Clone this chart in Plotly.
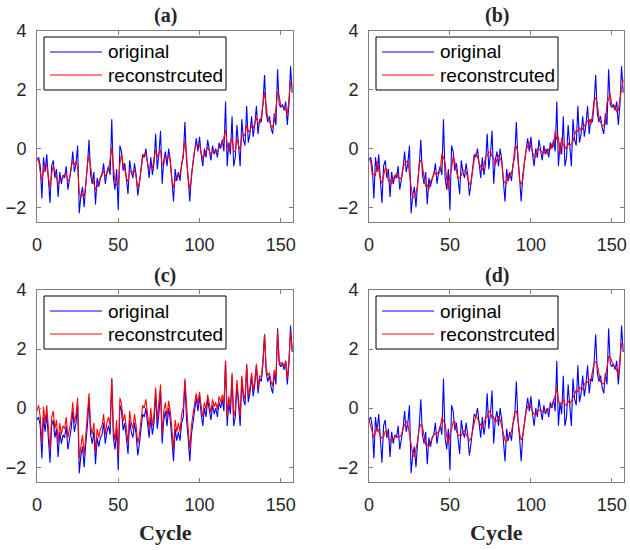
import plotly.graph_objects as go

COLOR_BLUE = "#0000FF"
COLOR_RED = "#FF0000"
AXIS_GRAY = "#7F7F7F"

cycle = list(range(158))

original = [
    -0.4, -0.3, -0.6, -1.7, -0.3, -0.8, -0.2, -1.1, -1.85, -0.6,
    -0.4, -1.0, -0.7, -1.65, -0.8, -1.2, -0.9, -1.0, -0.6, -1.4,
    -1.0, -0.7, -0.1, -0.8, -0.5, 0.1, -2.2, -1.6, -1.3, -2.0,
    -1.2, -0.6, 0.3, -0.9, -1.2, -0.8, -1.9, -1.0, -1.3, -1.0,
    -0.9, -0.5, -1.2, -0.8, -0.6, -0.9, 1.0, -1.0, -1.4, -0.7,
    -2.1, 0.1, -0.1, -0.75, -0.5, -1.0, -1.55, -0.4, -0.8, -1.0,
    -0.5, -0.9, -1.6, -1.2, -0.6, -0.2, -0.3, 0.0, -0.5, -1.0,
    -0.3, -0.9, -0.5, 0.5, -0.7, -0.2, 0.6, -1.2, -0.4, -0.1,
    -0.6, 0.0, -0.4, -1.0, -1.8, -0.7, -1.1, -0.8, -1.1, -0.5,
    -0.3, 0.9, -0.4, -1.0, -1.8, -0.9, -0.5, 0.0, 0.35, -0.1,
    0.4, -0.2, -0.6, 0.0, -0.3, 0.3, -0.1, -0.4, 0.1, -0.2,
    0.0, -0.3, 0.2, 0.0, 0.3, -0.1, 1.6, -0.6, 0.2, -0.2,
    1.1, -0.6, -0.3, 0.8, 0.1, -0.6, 1.0, 0.3, 0.1, 1.45,
    0.2, 0.5, 1.1, 0.4, 0.8, 1.45, 0.5, 1.0, 0.9, 1.5,
    2.5, 1.2, 0.9, 1.1, 0.7, 0.5, 1.2, 0.8, 2.7, 1.5,
    1.4, 1.5, 1.3, 1.6, 0.8, 1.5, 2.8, 1.9,
]

recon_a = [
    -0.38, -0.40, -0.80, -1.08, -0.78, -0.53, -0.58, -1.06, -1.35, -0.86,
    -0.60, -0.78, -1.01, -1.20, -1.11, -1.03, -1.00, -0.88, -0.90, -1.10,
    -1.03, -0.63, -0.43, -0.55, -0.43, -0.63, -1.48, -1.68, -1.55, -1.63,
    -1.25, -0.53, -0.23, -0.68, -1.03, -1.18, -1.40, -1.30, -1.15, -1.05,
    -0.83, -0.78, -0.93, -0.85, -0.73, -0.35, 0.03, -0.60, -1.13, -1.23,
    -1.20, -0.50, -0.21, -0.53, -0.69, -1.01, -1.13, -0.79, -0.75, -0.83,
    -0.73, -0.98, -1.33, -1.15, -0.65, -0.33, -0.20, -0.20, -0.50, -0.70,
    -0.63, -0.65, -0.35, -0.05, -0.28, -0.13, -0.05, -0.55, -0.53, -0.30,
    -0.33, -0.25, -0.45, -1.05, -1.33, -1.08, -0.93, -0.95, -0.88, -0.60,
    -0.05, 0.28, -0.23, -1.05, -1.38, -1.03, -0.48, -0.04, 0.15, 0.14,
    0.13, -0.15, -0.35, -0.23, -0.08, 0.05, -0.08, -0.20, -0.10, -0.08,
    -0.13, -0.10, 0.03, 0.13, 0.13, 0.43, 0.63, 0.15, -0.10, 0.23,
    0.35, -0.10, -0.10, 0.35, 0.10, -0.03, 0.43, 0.43, 0.49, 0.80,
    0.59, 0.58, 0.78, 0.68, 0.86, 1.05, 0.86, 0.85, 1.08, 1.60,
    1.93, 1.45, 1.03, 0.95, 0.75, 0.73, 0.93, 1.38, 1.93, 1.78,
    1.45, 1.43, 1.43, 1.33, 1.18, 1.65, 2.25, 2.13,
]

recon_b = [
    -0.35, -0.43, -0.87, -0.87, -0.93, -0.43, -0.70, -1.05, -1.18, -0.95,
    -0.67, -0.70, -1.12, -1.05, -1.22, -0.97, -1.03, -0.83, -1.00, -1.00,
    -1.03, -0.60, -0.53, -0.47, -0.40, -0.87, -1.23, -1.70, -1.63, -1.50,
    -1.27, -0.50, -0.40, -0.60, -0.97, -1.30, -1.23, -1.40, -1.10, -1.07,
    -0.80, -0.87, -0.83, -0.87, -0.77, -0.17, -0.30, -0.47, -1.03, -1.40,
    -0.90, -0.70, -0.25, -0.45, -0.75, -1.02, -0.98, -0.92, -0.73, -0.77,
    -0.80, -1.00, -1.23, -1.13, -0.67, -0.37, -0.17, -0.27, -0.50, -0.60,
    -0.73, -0.57, -0.30, -0.23, -0.13, -0.10, -0.27, -0.33, -0.57, -0.37,
    -0.23, -0.33, -0.47, -1.07, -1.17, -1.20, -0.87, -1.00, -0.80, -0.63,
    0.03, 0.07, -0.17, -1.07, -1.23, -1.07, -0.47, -0.05, 0.08, 0.22,
    0.03, -0.13, -0.27, -0.30, 0.00, -0.03, -0.07, -0.13, -0.17, -0.03,
    -0.17, -0.03, -0.03, 0.17, 0.07, 0.60, 0.30, 0.40, -0.20, 0.37,
    0.10, 0.07, -0.03, 0.20, 0.10, 0.17, 0.23, 0.47, 0.62, 0.58,
    0.72, 0.60, 0.67, 0.77, 0.88, 0.92, 0.98, 0.80, 1.13, 1.63,
    1.73, 1.53, 1.07, 0.90, 0.77, 0.80, 0.83, 1.57, 1.67, 1.87,
    1.47, 1.40, 1.47, 1.23, 1.30, 1.70, 2.07, 2.35,
]

recon_c = [
    -0.1, 0.1, -0.3, -1.2, 0.05, -0.5, 0.1, -0.7, -1.4, -0.3,
    -0.1, -0.7, -0.4, -1.2, -0.5, -0.9, -0.6, -0.7, -0.3, -1.0,
    -0.7, -0.4, 0.2, -0.5, -0.2, 0.35, -1.7, -1.2, -0.9, -1.6,
    -0.9, -0.3, 0.5, -0.6, -0.9, -0.5, -1.5, -0.7, -1.0, -0.7,
    -0.6, -0.2, -0.9, -0.5, -0.3, -0.6, 1.0, -0.7, -1.1, -0.4,
    -1.6, 0.35, 0.15, -0.45, -0.2, -0.7, -1.2, -0.1, -0.5, -0.7,
    -0.2, -0.6, -1.2, -0.9, -0.3, 0.1, 0.0, 0.3, -0.2, -0.7,
    0.0, -0.6, -0.2, 0.7, -0.4, 0.1, 0.8, -0.9, -0.1, 0.2,
    -0.3, 0.25, -0.1, -0.7, -1.4, -0.4, -0.8, -0.5, -0.8, -0.2,
    0.0, 1.0, -0.1, -0.7, -1.4, -0.6, -0.2, 0.25, 0.5, 0.15,
    0.55, 0.05, -0.3, 0.2, -0.05, 0.45, 0.15, -0.15, 0.3, 0.05,
    0.2, -0.05, 0.4, 0.2, 0.45, 0.15, 1.6, -0.3, 0.4, 0.05,
    1.2, -0.3, -0.05, 0.95, 0.3, -0.3, 1.1, 0.5, 0.3, 1.5,
    0.4, 0.7, 1.2, 0.6, 0.95, 1.5, 0.7, 1.1, 1.05, 1.6,
    2.5, 1.35, 1.1, 1.2, 0.9, 0.75, 1.3, 1.0, 2.6, 1.6,
    1.5, 1.55, 1.4, 1.6, 1.0, 1.6, 2.6, 2.0,
]

recon_d = [
    -0.39, -0.59, -0.77, -1.00, -0.83, -0.63, -0.78, -0.98, -1.01, -0.97,
    -0.79, -0.79, -1.02, -1.06, -1.14, -1.04, -0.97, -0.93, -0.99, -0.97,
    -0.90, -0.70, -0.58, -0.44, -0.55, -0.94, -1.17, -1.55, -1.65, -1.42,
    -1.12, -0.69, -0.56, -0.62, -0.94, -1.23, -1.24, -1.30, -1.16, -1.01,
    -0.89, -0.88, -0.82, -0.84, -0.64, -0.32, -0.44, -0.54, -0.94, -1.21,
    -0.87, -0.71, -0.46, -0.45, -0.77, -0.93, -0.92, -0.94, -0.79, -0.75,
    -0.88, -1.02, -1.10, -1.02, -0.73, -0.42, -0.25, -0.34, -0.46, -0.57,
    -0.69, -0.51, -0.34, -0.30, -0.10, -0.15, -0.33, -0.30, -0.46, -0.42,
    -0.27, -0.38, -0.62, -0.93, -1.09, -1.14, -0.99, -0.92, -0.78, -0.50,
    -0.13, -0.10, -0.35, -0.86, -1.08, -0.96, -0.52, -0.14, 0.06, 0.16,
    0.00, -0.12, -0.21, -0.23, -0.07, -0.07, -0.08, -0.10, -0.15, -0.10,
    -0.11, -0.05, 0.01, 0.10, 0.24, 0.42, 0.70, 0.29, 0.11, 0.18,
    0.30, 0.12, 0.10, 0.25, 0.15, 0.25, 0.40, 0.46, 0.62, 0.55,
    0.70, 0.67, 0.64, 0.81, 0.87, 0.88, 0.96, 0.94, 1.21, 1.53,
    1.57, 1.49, 1.18, 0.89, 0.83, 0.83, 1.01, 1.46, 1.75, 1.73,
    1.58, 1.43, 1.40, 1.29, 1.10, 1.60, 2.20, 2.10,
]

panel_titles = ["(a)", "(b)", "(c)", "(d)"]
series_names = ["original", "reconstrcuted"]
reconstructions = [recon_a, recon_b, recon_c, recon_d]

# posiciones de los 4 ejes (en pixeles de la ventana 630x550)
W, H = 630, 550
cols = [(37, 293), (369, 624)]
rows = [(31, 222), (290, 482)]
SERIF = "Liberation Serif, Times New Roman, serif"
SANS = "Liberation Sans, Arial, sans-serif"


def px(x, y):
    # pixeles -> coordenadas paper
    return x / W, 1 - y / H


fig = go.Figure()
annotations = []
shapes = []
layout = dict(
    width=W, height=H,
    margin=dict(l=0, r=0, t=0, b=0, autoexpand=False),
    plot_bgcolor="white",
    paper_bgcolor="white",
    showlegend=False,
    font=dict(family=SANS, size=18, color="#262626"),
)

for k in range(4):
    r, c = divmod(k, 2)
    suf = "" if k == 0 else str(k + 1)
    x0, x1 = cols[c]
    y0, y1 = rows[r]

    fig.add_trace(go.Scatter(
        x=cycle, y=original, mode="lines", name=series_names[0],
        line=dict(color=COLOR_BLUE, width=1.1), xaxis="x" + suf, yaxis="y" + suf,
    ))
    fig.add_trace(go.Scatter(
        x=cycle, y=reconstructions[k], mode="lines", name=series_names[1],
        line=dict(color=COLOR_RED, width=1.1), xaxis="x" + suf, yaxis="y" + suf,
    ))

    layout["xaxis" + suf] = dict(
        domain=[x0 / W, x1 / W], anchor="y" + suf, range=[0, 157.5],
        tickvals=[0, 50, 100, 150], showline=True, linecolor=AXIS_GRAY, linewidth=1,
        mirror="ticks", ticks="inside", ticklen=4, tickcolor=AXIS_GRAY,
        showgrid=False, zeroline=False, ticklabelstandoff=6, automargin=False,
    )
    layout["yaxis" + suf] = dict(
        domain=[1 - y1 / H, 1 - y0 / H], anchor="x" + suf, range=[-2.5, 4],
        tickvals=[-2, 0, 2, 4], showline=True, linecolor=AXIS_GRAY, linewidth=1,
        mirror="ticks", ticks="inside", ticklen=4, tickcolor=AXIS_GRAY,
        showgrid=False, zeroline=False, ticklabelstandoff=6, automargin=False,
    )

    # leyenda dibujada a mano (caja, muestras de linea y textos)
    bx0, by0 = px(x0 + 7, y0 + 6)
    bx1, by1 = px(x0 + 189, y0 + 59)
    shapes.append(dict(type="rect", xref="paper", yref="paper", x0=bx0, y0=by1, x1=bx1, y1=by0,
                       line=dict(color="black", width=1), fillcolor="white", layer="above"))
    for j, (dy, col) in enumerate([(21, COLOR_BLUE), (44, COLOR_RED)]):
        lx0, ly = px(x0 + 13, y0 + dy)
        lx1, _ = px(x0 + 65, y0 + dy)
        shapes.append(dict(type="line", xref="paper", yref="paper", x0=lx0, y0=ly, x1=lx1, y1=ly,
                           line=dict(color=col, width=1), layer="above"))
        tx, _ = px(x0 + 69, y0 + dy)
        annotations.append(dict(text=series_names[j], x=tx, y=ly, xref="paper", yref="paper",
                                xanchor="left", yanchor="middle", showarrow=False,
                                font=dict(family=SANS, size=19, color="black")))

    tx, ty = px((x0 + x1) / 2, y0 - 15)
    annotations.append(dict(
        text="<b>" + panel_titles[k] + "</b>", x=tx, y=ty, xref="paper", yref="paper",
        xanchor="center", yanchor="middle", showarrow=False,
        font=dict(family=SERIF, size=20, color="#262626"),
    ))
    if r == 1:
        cx, cy = px((x0 + x1) / 2, 532)
        annotations.append(dict(
            text="<b>Cycle</b>", x=cx, y=cy, xref="paper", yref="paper",
            xanchor="center", yanchor="middle", showarrow=False,
            font=dict(family=SERIF, size=22, color="#262626"),
        ))

layout["annotations"] = annotations
layout["shapes"] = shapes
fig.update_layout(**layout)
fig.write_html("out.html", config={"displayModeBar": False},
               post_script="document.body.style.margin='0px';")
